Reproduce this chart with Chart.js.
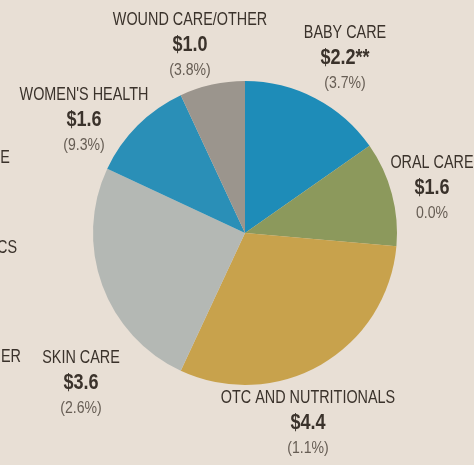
<!DOCTYPE html>
<html>
<head>
<meta charset="utf-8">
<script src="https://cdn.jsdelivr.net/npm/chart.js@4"></script>
<style>
  html, body { margin: 0; padding: 0; background: #e8dfd5; }
  #wrap { width: 474px; height: 465px; position: relative; }
</style>
</head>
<body>
<div id="wrap"><canvas id="pie"></canvas></div>
<script>
// Segments, clockwise from 12 o'clock
const categories = ["BABY CARE", "ORAL CARE", "OTC AND NUTRITIONALS", "SKIN CARE", "WOMEN'S HEALTH", "WOUND CARE/OTHER"];
const sales = [2.2, 1.6, 4.4, 3.6, 1.6, 1.0];
const valueLabels = ["$2.2**", "$1.6", "$4.4", "$3.6", "$1.6", "$1.0"];
const changeLabels = ["(3.7%)", "0.0%", "(1.1%)", "(2.6%)", "(9.3%)", "(3.8%)"];
const colors = ["#1e8cb8", "#8c995c", "#c8a24c", "#b4b8b4", "#2a8fb7", "#9b958d"];

// where each label block sits (centre x, top line y)
const labelPos = [[345, 33], [432, 163], [308, 398], [81, 358], [84, 95], [190, 20]];
// clipped labels from the neighbouring chart on the page
const edgeText = [["E", 5, 158], ["CS", 7, 248], ["IER", 9, 357]];

const font = "'Liberation Sans', Arial, sans-serif";

function narrowText(ctx, text, x, y, squeeze) {
  ctx.save();
  ctx.translate(x, y);
  ctx.scale(squeeze, 1);
  ctx.fillText(text, 0, 0);
  ctx.restore();
}

const labelPlugin = {
  id: "outsideLabels",
  afterDraw(chart) {
    const ctx = chart.ctx;
    ctx.save();
    ctx.textAlign = "center";
    ctx.textBaseline = "middle";
    categories.forEach((name, i) => {
      const [x, y] = labelPos[i];
      ctx.fillStyle = "#3a322b";
      ctx.font = "18px " + font;
      narrowText(ctx, name, x, y, 0.8);
      ctx.font = "bold 22px " + font;
      narrowText(ctx, valueLabels[i], x, y + 25, 0.82);
      ctx.fillStyle = "#665d54";
      ctx.font = "16px " + font;
      narrowText(ctx, changeLabels[i], x, y + 51, 0.88);
    });
    ctx.fillStyle = "#3a322b";
    ctx.font = "18px " + font;
    edgeText.forEach(([t, x, y]) => narrowText(ctx, t, x, y, 0.8));
    ctx.restore();
  }
};

new Chart(document.getElementById("pie"), {
  type: "pie",
  data: {
    labels: categories,
    datasets: [{
      data: sales,
      backgroundColor: colors,
      borderWidth: 0
    }]
  },
  options: {
    responsive: true,
    maintainAspectRatio: false,
    animation: false,
    layout: { padding: { left: 93, right: 77, top: 81, bottom: 80 } },
    plugins: {
      legend: { display: false },
      tooltip: { enabled: false }
    }
  },
  plugins: [labelPlugin]
});
</script>
</body>
</html>
